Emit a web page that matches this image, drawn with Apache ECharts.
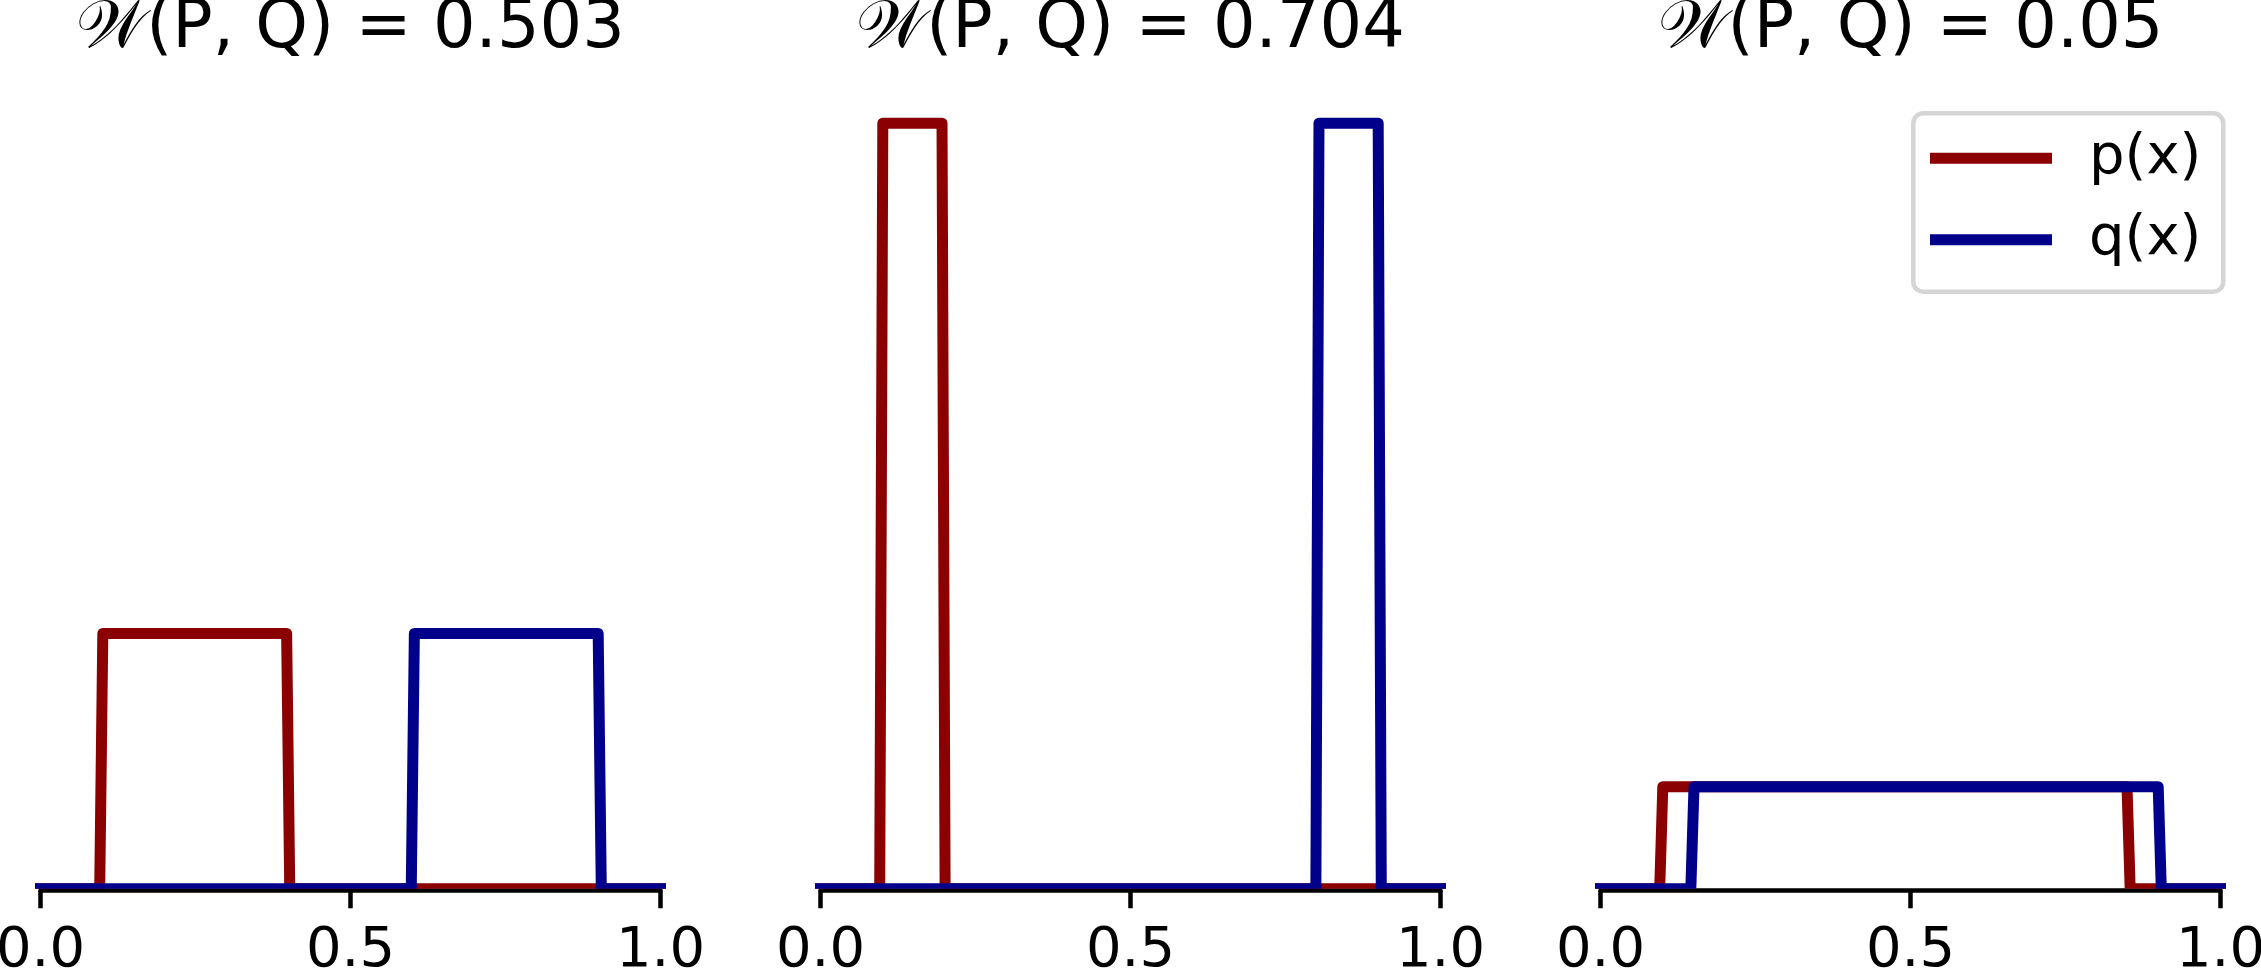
<!DOCTYPE html>
<html>
<head>
<meta charset="utf-8">
<script src="https://cdn.jsdelivr.net/npm/echarts@6/dist/echarts.min.js"></script>
<style>
  html, body { margin: 0; padding: 0; background: #ffffff; }
  #chart { width: 2261px; height: 973px; }
</style>
</head>
<body>
<div id="chart"></div>
<script>
// ---------------- data ----------------
const titles = ['𝒲(P, Q) = 0.503', '𝒲(P, Q) = 0.704', '𝒲(P, Q) = 0.05'];
const seriesNames = ['p(x)', 'q(x)'];
const tickValues = [0.0, 0.5, 1.0];

// panel 1: p uniform on [0.1, 0.4], q uniform on [0.6, 0.9]
const p1 = [[0, 0], [0.0955, 0], [0.1005, 3.333], [0.397, 3.333], [0.402, 0], [1, 0]];
const q1 = [[0, 0], [0.598, 0], [0.603, 3.333], [0.8995, 3.333], [0.9045, 0], [1, 0]];
// panel 2: p uniform on [0.1, 0.2], q uniform on [0.8, 0.9]
const p2 = [[0, 0], [0.0955, 0], [0.1005, 10], [0.196, 10], [0.201, 0], [1, 0]];
const q2 = [[0, 0], [0.799, 0], [0.804, 10], [0.8995, 10], [0.9045, 0], [1, 0]];
// panel 3: p uniform on [0.1, 0.85], q uniform on [0.15, 0.9]
const p3 = [[0, 0], [0.0955, 0], [0.1005, 1.333], [0.8492, 1.333], [0.8543, 0], [1, 0]];
const q3 = [[0, 0], [0.1457, 0], [0.1508, 1.333], [0.8995, 1.333], [0.9045, 0], [1, 0]];

const panels = [[p1, q1], [p2, q2], [p3, q3]];

// ---------------- styling / layout ----------------
const colors = ['#8b0000', '#00008b'];
const LINE_W = 11;
const PANEL_STEP = 780;
const DATA_LEFT0 = 9.5, DATA_W = 682;     // x from -0.05 to 1.05
const SPINE_LEFT0 = 40.5, SPINE_W = 620;  // x from 0 to 1
const TOP = 84.9, PXU = 76.55, Y0 = 888.7;
const Y_MAX = 10.5;
const yClip = (LINE_W / 2) / PXU;         // echarts expands clip by lineWidth/2
const SPINE_Y = 890.7;
const FONT = 'DejaVu Sans, Noto Sans, sans-serif';

const grid = [], xAxis = [], yAxis = [], series = [], title = [];

panels.forEach((pair, k) => {
  // data grid
  grid.push({
    left: DATA_LEFT0 + PANEL_STEP * k, width: DATA_W,
    top: TOP, height: (Y_MAX - yClip) * PXU,
    containLabel: false, outerBoundsMode: 'none'
  });
  xAxis.push({ type: 'value', gridIndex: 2 * k, min: -0.05, max: 1.05, show: false });
  yAxis.push({ type: 'value', gridIndex: 2 * k, min: yClip, max: Y_MAX, show: false });
  // spine grid
  grid.push({
    left: SPINE_LEFT0 + PANEL_STEP * k, width: SPINE_W,
    top: TOP, height: SPINE_Y - TOP,
    containLabel: false, outerBoundsMode: 'none'
  });
  xAxis.push({
    type: 'value', gridIndex: 2 * k + 1, min: 0, max: 1, interval: 0.5,
    position: 'bottom',
    axisLine: { show: true, onZero: false, lineStyle: { color: '#000', width: 4.5 } },
    axisTick: { show: true, length: 17.6, lineStyle: { color: '#000', width: 4.5 } },
    axisLabel: {
      show: true, margin: 32.7, fontSize: 56, fontFamily: FONT, color: '#000',
      showMinLabel: true, showMaxLabel: true,
      formatter: v => v.toFixed(1)
    },
    splitLine: { show: false }
  });
  yAxis.push({ type: 'value', gridIndex: 2 * k + 1, min: 0, max: 1, show: false });

  pair.forEach((d, j) => {
    series.push({
      type: 'line', name: seriesNames[j],
      xAxisIndex: 2 * k, yAxisIndex: 2 * k,
      data: d, symbol: 'none', showSymbol: false, clip: true,
      color: colors[j],
      lineStyle: { color: colors[j], width: LINE_W, cap: 'square', join: 'round' },
      z: 3 + j, silent: true, animation: false
    });
  });

  title.push({
    text: titles[k],
    left: 350.5 + PANEL_STEP * k, top: -4, padding: 0,
    textAlign: 'center',
    textStyle: { fontSize: 67, fontFamily: FONT, fontWeight: 'normal', color: '#000', lineHeight: 67 }
  });
});

const option = {
  backgroundColor: '#ffffff',
  animation: false,
  title,
  grid, xAxis, yAxis, series,
  legend: {
    data: seriesNames.map((n, j) => ({ name: n, itemStyle: { color: colors[j], borderWidth: 0 } })),
    orient: 'vertical',
    left: 1913.3, top: 113.3,
    padding: [17, 21.9, 24, 16.7],
    itemGap: 25.4,
    itemWidth: 122, itemHeight: 11,
    icon: 'rect',
    selectedMode: false,
    backgroundColor: '#ffffff',
    borderColor: '#d5d5d5', borderWidth: 4.5, borderRadius: 10,
    itemStyle: { borderWidth: 0 },
    textStyle: { fontSize: 56, fontFamily: FONT, color: '#000', lineHeight: 56, padding: [0, 0, 0, 32] }
  }
};

const chart = echarts.init(document.getElementById('chart'), null, { renderer: 'canvas', width: 2261, height: 973 });
chart.setOption(option);
</script>
</body>
</html>
